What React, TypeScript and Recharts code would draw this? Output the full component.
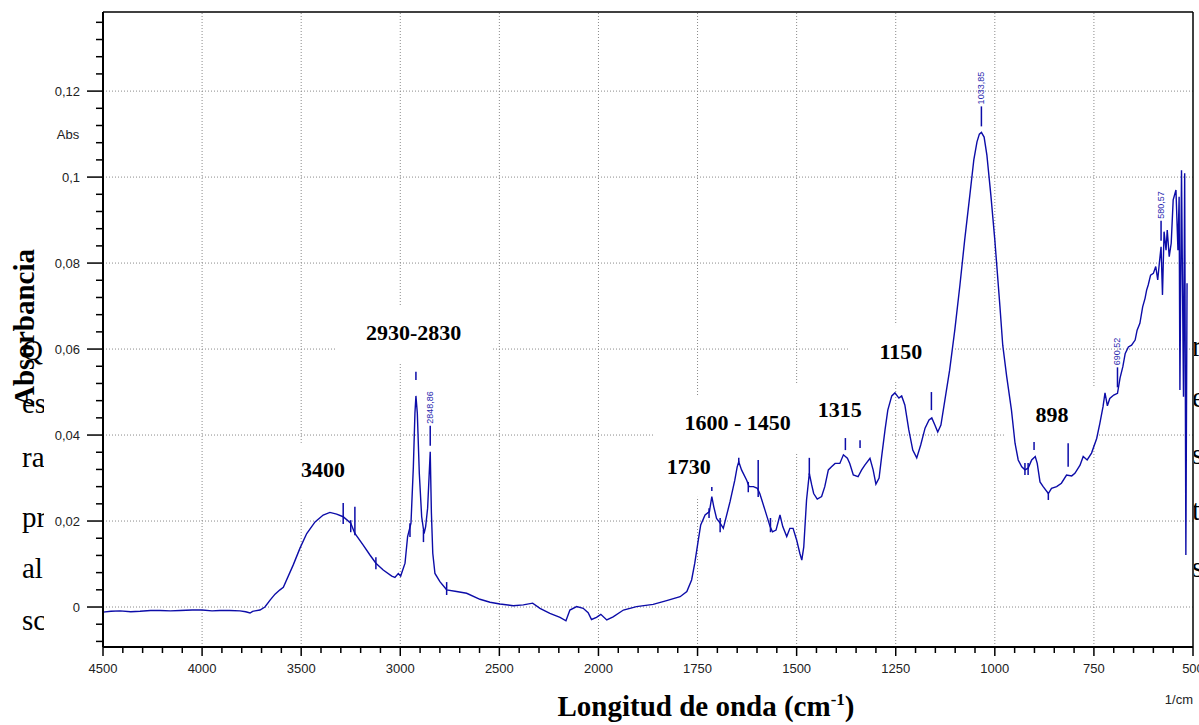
import { LineChart, Line, XAxis, YAxis, ReferenceLine, ReferenceDot } from 'recharts';

// FTIR spectrum: wavenumber (1/cm), high to low, and absorbance
const wavenumbers = [
  4500, 4460, 4414, 4360, 4313, 4260, 4212, 4160, 4111, 4050, 4000, 3950, 3910, 3860, 3809, 3780, 3758, 3745,
  3733, 3708, 3683, 3657, 3632, 3607, 3590, 3540, 3506, 3472, 3430, 3389, 3355, 3321, 3288, 3250, 3229, 3187,
  3153, 3123, 3086, 3043, 3027, 3010, 2998, 2976, 2963, 2946, 2934, 2926, 2921, 2914, 2904, 2892, 2880, 2872,
  2862, 2855, 2848.86, 2843, 2836, 2825, 2800, 2766, 2716, 2665, 2598, 2547, 2497, 2430, 2379, 2332, 2295, 2245,
  2194, 2164, 2144, 2110, 2077, 2052, 2035, 2010, 1994, 1979, 1963, 1937, 1904, 1862, 1828, 1794, 1777, 1765,
  1757, 1748, 1742, 1731, 1720, 1714, 1709, 1702, 1693, 1685, 1668, 1656, 1650, 1646, 1639, 1626, 1620, 1609,
  1599, 1593, 1580, 1567, 1561, 1552, 1542, 1535, 1525, 1517, 1509, 1500, 1492, 1487, 1482, 1475, 1468, 1462,
  1457, 1448, 1437, 1429, 1420, 1412, 1403, 1391, 1382, 1372, 1366, 1357, 1345, 1336, 1328, 1315, 1307, 1300,
  1292, 1285, 1277, 1270, 1260, 1252, 1242, 1235, 1227, 1217, 1207, 1197, 1187, 1176, 1166, 1159, 1151, 1144,
  1136, 1126, 1114, 1101, 1088, 1076, 1063, 1053, 1045, 1039, 1033.85, 1027, 1020, 1010, 1000, 987, 980, 970,
  958, 949, 941, 932, 924, 916, 907, 898, 893, 886, 878, 865, 857, 844, 832, 819, 806, 798, 785, 777, 767, 756,
  743, 735, 727, 722, 716, 710, 700, 690.52, 684, 677, 671, 663, 655, 646, 641, 634, 627, 621, 617, 613, 607,
  600, 594, 589, 585, 580.57, 577, 573, 568, 565, 560, 555, 550, 543, 538, 535, 533, 529, 524, 521, 518, 515,
];

const absorbance = [
  -0.0012, -0.001, -0.0009, -0.0011, -0.001, -0.0008, -0.0008, -0.0009, -0.0008, -0.0007, -0.0007, -0.0009,
  -0.0008, -0.0008, -0.0009, -0.0011, -0.0014, -0.001, -0.0009, -0.0007, 0.0, 0.0016, 0.003, 0.004, 0.0046,
  0.0098, 0.0137, 0.0171, 0.0198, 0.0214, 0.022, 0.0216, 0.021, 0.0195, 0.0171, 0.0144, 0.0121, 0.0102, 0.0086,
  0.0072, 0.0069, 0.0078, 0.0072, 0.0102, 0.0164, 0.0195, 0.0326, 0.0451, 0.0491, 0.0451, 0.0311, 0.021, 0.0171,
  0.0187, 0.023, 0.03, 0.0361, 0.022, 0.0125, 0.0078, 0.0059, 0.004, 0.0036, 0.0032, 0.0018, 0.0011, 0.0007,
  0.0003, 0.0005, 0.0009, -0.0003, -0.0015, -0.0024, -0.0032, -0.0007, 0.0001, -0.0003, -0.0013, -0.0029,
  -0.0024, -0.0017, -0.003, -0.0023, -0.0007, 0.0001, 0.0006, 0.0015, 0.0024, 0.0036, 0.0063, 0.0102, 0.0156,
  0.0191, 0.0214, 0.0222, 0.0257, 0.0233, 0.0206, 0.0195, 0.0183, 0.0245, 0.0295, 0.0326, 0.0338, 0.0319,
  0.0295, 0.028, 0.028, 0.0276, 0.0264, 0.0226, 0.0187, 0.0175, 0.0179, 0.0214, 0.0187, 0.0164, 0.0183, 0.0183,
  0.0156, 0.0125, 0.0109, 0.014, 0.0249, 0.0311, 0.0284, 0.0264, 0.0251, 0.0257, 0.028, 0.0319, 0.0326, 0.0334,
  0.0334, 0.0354, 0.0346, 0.0334, 0.0307, 0.0303, 0.0319, 0.033, 0.0346, 0.0319, 0.0286, 0.03, 0.0354, 0.0412,
  0.0458, 0.0491, 0.0498, 0.0486, 0.0491, 0.047, 0.0412, 0.0365, 0.0347, 0.0377, 0.0416, 0.0435, 0.044, 0.0423,
  0.0407, 0.0423, 0.0481, 0.0551, 0.0644, 0.0749, 0.0854, 0.0958, 0.104, 0.1082, 0.11, 0.1104, 0.1093, 0.1051,
  0.0958, 0.0854, 0.0698, 0.0609, 0.0536, 0.0458, 0.0381, 0.0342, 0.0326, 0.0319, 0.0323, 0.0342, 0.035, 0.0334,
  0.0291, 0.028, 0.0264, 0.0276, 0.028, 0.0288, 0.0307, 0.0305, 0.0311, 0.033, 0.035, 0.0342, 0.0358, 0.0392,
  0.0427, 0.0466, 0.0498, 0.0468, 0.0485, 0.0493, 0.0497, 0.0533, 0.0559, 0.059, 0.0605, 0.0609, 0.0621, 0.0644,
  0.066, 0.0698, 0.0718, 0.0737, 0.0749, 0.0772, 0.0776, 0.0792, 0.0761, 0.0799, 0.0838, 0.0726, 0.0873, 0.083,
  0.0877, 0.0815, 0.0846, 0.0947, 0.097, 0.083, 0.0954, 0.0505, 0.1016, 0.0489, 0.1009, 0.0121, 0.0753,
];

// picked peaks with printed values
const pickedPeaks = [2848.86, 1033.85, 690.52, 580.57];

// short peak-pick marks: [wavenumber, top, bottom]
const peakMarks: [number, number, number][] = [
  [3288, 0.0242, 0.0193], [3250, 0.0202, 0.0174], [3229, 0.0233, 0.0167], [3123, 0.0116, 0.0088],
  [2951, 0.0195, 0.0163], [2921, 0.0547, 0.0528], [2883, 0.0179, 0.0151], [2766, 0.0058, 0.0028],
  [1721, 0.023, 0.0207], [1714, 0.0279, 0.027], [1693, 0.0207, 0.0174], [1646, 0.0347, 0.0337],
  [1622, 0.0291, 0.0267], [1597, 0.0342, 0.0256], [1566, 0.0207, 0.0174], [1468, 0.0347, 0.0307],
  [1377, 0.0393, 0.0365], [1340, 0.0388, 0.037], [1160, 0.05, 0.0458], [924, 0.0335, 0.0307],
  [916, 0.0335, 0.0307], [901, 0.0384, 0.0365], [865, 0.0265, 0.0249], [815, 0.0381, 0.0326],
];

// band assignments written on the spectrum
const bandLabels = ['3400', '2930-2830', '1730', '1600 - 1450', '1315', '1150', '898'];
const bandWavenumbers = [3390, 2933, 1772, 1649, 1391, 1237, 856];
const bandHeights = [0.0319, 0.0637, 0.0326, 0.0427, 0.0458, 0.0593, 0.0447];

const xMajor = [4500, 4000, 3500, 3000, 2500, 2000, 1750, 1500, 1250, 1000, 750, 500];
const yMajor = [0, 0.02, 0.04, 0.06, 0.08, 0.1, 0.12];
const Y_MIN = -0.0093;
const Y_MAX = 0.1384;

// wavenumber axis is compressed 2:1 above 2000 1/cm
const toAxis = (wn: number) => (wn >= 2000 ? 4500 - wn : 2500 + (2000 - wn) * 2);
const fromAxis = (u: number) => (u <= 2500 ? 4500 - u : 2000 - (u - 2500) / 2);

const xMinor: number[] = [];
for (let w = 4400; w > 2000; w -= 100) if (!xMajor.includes(w)) xMinor.push(w);
for (let w = 1950; w > 500; w -= 50) if (!xMajor.includes(w)) xMinor.push(w);
const xTicks = [...xMajor, ...xMinor].map(toAxis).sort((a, b) => a - b);

const yTicks: number[] = [];
for (let k = -2; k <= 34; k++) yTicks.push(Number((k * 0.004).toFixed(3)));

const isMajorY = (v: number) => yMajor.some((m) => Math.abs(m - v) < 1e-6);

const chartData = wavenumbers.map((w, i) => ({ u: toAxis(w), a: absorbance[i] }));

const BLUE = '#0c0ca8';
const SANS = 'Liberation Sans, Arial, sans-serif';
const SERIF = 'Liberation Serif, Times New Roman, serif';

function XTick({ x, y, payload }: any) {
  const wn = Math.round(fromAxis(payload.value));
  const major = xMajor.includes(wn);
  return (
    <g>
      <line x1={x} x2={x} y1={y} y2={y + (major ? 9 : 6)} stroke="#000" strokeWidth={1.5} />
      {major && (
        <text x={x} y={y + 26} textAnchor="middle" fontFamily={SANS} fontSize={13} fill="#222">
          {wn}
        </text>
      )}
    </g>
  );
}

function YTick({ x, y, payload }: any) {
  const v = payload.value;
  const major = isMajorY(v);
  return (
    <g>
      <line x1={x - (major ? 16 : 7)} x2={x} y1={y} y2={y} stroke="#000" strokeWidth={1.5} />
      {major && (
        <text x={x - 23} y={y} dy={4.5} textAnchor="end" fontFamily={SANS} fontSize={13} fill="#222">
          {String(Number(v.toFixed(3))).replace('.', ',')}
        </text>
      )}
    </g>
  );
}

const textWidth = (s: string) =>
  [...s].reduce((w, ch) => w + (ch === ' ' ? 5.5 : ch === '-' ? 7.3 : 11), 0);

// white text-box behind each band label
function BandBox({ cx, cy, text }: any) {
  const w = textWidth(text);
  return <rect x={cx - w / 2 - 30} y={cy - 27} width={w + 60} height={57} fill="#fff" />;
}

function BandText({ cx, cy, text }: any) {
  return (
    <text x={cx} y={cy} dy={7} textAnchor="middle" fontFamily={SERIF} fontWeight="bold" fontSize={22} fill="#000">
      {text}
    </text>
  );
}

function PeakValue({ cx, cy, text }: any) {
  return (
    <g>
      <line x1={cx} x2={cx} y1={cy - 6} y2={cy - 26} stroke={BLUE} strokeWidth={1.5} />
      <text
        transform={`translate(${cx + 3}, ${cy - 28}) rotate(-90)`}
        fontFamily={SANS}
        fontSize={9}
        fill="#2a2ab0"
      >
        {text}
      </text>
    </g>
  );
}

const leftLines = [
  { t: 'Q', y: 360 },
  { t: 'es', y: 413 },
  { t: 'ra', y: 467 },
  { t: 'pr', y: 527 },
  { t: 'al', y: 578 },
  { t: 'sc', y: 630 },
];
const rightLines = [
  { t: 'r', y: 356 },
  { t: 'e', y: 407 },
  { t: 's', y: 464 },
  { t: 't', y: 520 },
  { t: 's', y: 577 },
];

export default function App() {
  return (
    <div style={{ position: 'absolute', left: 0, top: 0, width: 1199, height: 725, background: '#fff', overflow: 'hidden' }}>
      <LineChart width={1199} height={725} data={chartData} margin={{ top: 12, right: 6, bottom: 48, left: 43 }}>
        <XAxis
          dataKey="u"
          type="number"
          domain={[0, 5500]}
          ticks={xTicks}
          interval={0}
          tickSize={0}
          tickMargin={0}
          tickLine={false}
          axisLine={{ stroke: '#000', strokeWidth: 2 }}
          tick={(p: any) => <XTick {...p} />}
          height={30}
          allowDataOverflow
        />
        <YAxis
          type="number"
          domain={[Y_MIN, Y_MAX]}
          ticks={yTicks}
          interval={0}
          tickSize={0}
          tickMargin={0}
          tickLine={false}
          axisLine={{ stroke: '#000', strokeWidth: 2 }}
          tick={(p: any) => <YTick {...p} />}
          width={60}
          allowDataOverflow
        />

        {xMajor.slice(1, -1).map((w) => (
          <ReferenceLine key={'gx' + w} x={toAxis(w)} stroke="#8a8a8a" strokeDasharray="1 2" zIndex={-100} />
        ))}
        {yMajor.map((v) => (
          <ReferenceLine key={'gy' + v} y={v} stroke="#8a8a8a" strokeDasharray="1 2" zIndex={-100} />
        ))}

        {bandLabels.map((t, i) => (
          <ReferenceDot
            key={'bb' + t}
            x={toAxis(bandWavenumbers[i])}
            y={bandHeights[i]}
            r={0}
            zIndex={290}
            shape={(p: any) => <BandBox cx={p.cx} cy={p.cy} text={t} />}
          />
        ))}
        {bandLabels.map((t, i) => (
          <ReferenceDot
            key={'bt' + t}
            x={toAxis(bandWavenumbers[i])}
            y={bandHeights[i]}
            r={0}
            zIndex={310}
            shape={(p: any) => <BandText cx={p.cx} cy={p.cy} text={t} />}
          />
        ))}

        <Line
          type="linear"
          dataKey="a"
          stroke={BLUE}
          strokeWidth={1.4}
          dot={false}
          activeDot={false}
          isAnimationActive={false}
        />

        {peakMarks.map(([w, top, bottom]) => (
          <ReferenceLine
            key={'m' + w}
            segment={[{ x: toAxis(w), y: top }, { x: toAxis(w), y: bottom }]}
            stroke={BLUE}
            strokeWidth={1.5}
            zIndex={450}
          />
        ))}
        {pickedPeaks.map((w) => (
          <ReferenceDot
            key={'p' + w}
            x={toAxis(w)}
            y={absorbance[wavenumbers.indexOf(w)]}
            r={0}
            zIndex={450}
            shape={(p: any) => <PeakValue cx={p.cx} cy={p.cy} text={w.toFixed(2).replace('.', ',')} />}
          />
        ))}

        <ReferenceLine y={Y_MAX} stroke="#000" strokeWidth={1.5} />
        <ReferenceLine x={5500} stroke="#000" strokeWidth={1.5} />
      </LineChart>

      <svg width={1199} height={725} style={{ position: 'absolute', left: 0, top: 0, pointerEvents: 'none' }}>
        <defs>
          <clipPath id="clipLeft">
            <rect x={0} y={0} width={44} height={725} />
          </clipPath>
          <clipPath id="clipRight">
            <rect x={1194} y={0} width={5} height={725} />
          </clipPath>
        </defs>
        <g clipPath="url(#clipLeft)" fontFamily={SERIF} fontSize={29} fill="#000">
          {leftLines.map((l) => (
            <text key={'l' + l.y} x={22} y={l.y}>{l.t}</text>
          ))}
        </g>
        <g clipPath="url(#clipRight)" fontFamily={SERIF} fontSize={29} fill="#000">
          {rightLines.map((l) => (
            <text key={'r' + l.y} x={1192} y={l.y}>{l.t}</text>
          ))}
        </g>
        <text transform="translate(34, 328) rotate(-90)" textAnchor="middle" fontFamily={SERIF} fontWeight="bold" fontSize={29} fill="#000">
          Absorbancia
        </text>
        <text x={68} y={138.5} textAnchor="middle" fontFamily={SANS} fontSize={13} fill="#222">
          Abs
        </text>
        <text x={1193} y={704} textAnchor="end" fontFamily={SANS} fontSize={13} fill="#222">
          1/cm
        </text>
        <text x={706} y={716} textAnchor="middle" fontFamily={SERIF} fontWeight="bold" fontSize={29} fill="#000">
          Longitud de onda (cm<tspan dy={-11} fontSize={17}>-1</tspan><tspan dy={11}>)</tspan>
        </text>
      </svg>
    </div>
  );
}
